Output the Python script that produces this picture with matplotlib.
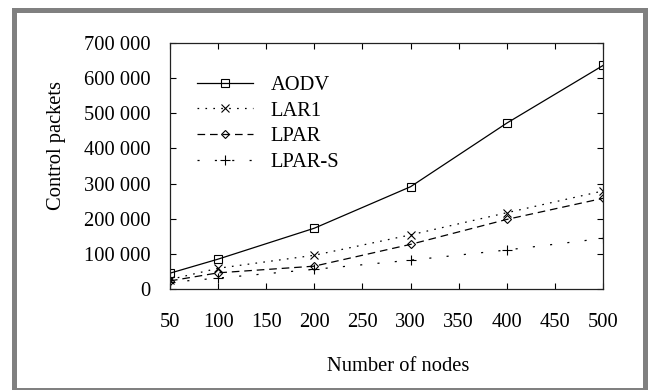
#!/usr/bin/env python3
"""
Control packets vs number of nodes - AODV / LAR1 / LPAR / LPAR-S
"""

import matplotlib
matplotlib.use('Agg')
import matplotlib.pyplot as plt
from matplotlib.patches import Rectangle
from matplotlib.ticker import FuncFormatter

# Data
nodes = [50, 100, 200, 300, 400, 500]
aodv = [45000, 85000, 173000, 291000, 472000, 636000]
lar1 = [27000, 59000, 96000, 154000, 217000, 279000]
lpar = [23000, 46000, 65000, 127000, 198000, 258000]
lpar_s = [19000, 31000, 56000, 82000, 111000, 144000]

x_ticks = [50, 100, 150, 200, 250, 300, 350, 400, 450, 500]
y_ticks = [0, 100000, 200000, 300000, 400000, 500000, 600000, 700000]

plt.rcParams['font.family'] = ['Liberation Serif', 'DejaVu Serif']
plt.rcParams['lines.scale_dashes'] = False

fig = plt.figure(figsize=(6.48, 3.9), dpi=100)
ax = fig.add_axes([170/648, 1 - 289/390, 433/648, 246/390])

lw = 0.9
ax.plot(nodes, aodv, color='black', lw=lw, marker='s', ms=5.5, mfc='none',
        mew=0.8, label='AODV')
ax.plot(nodes, lar1, color='black', lw=lw, dashes=(1.2, 4.5), marker='x', ms=5.5,
        mew=0.8, label='LAR1')
ax.plot(nodes, lpar, color='black', lw=lw, dashes=(5.5, 3.5), marker='D', ms=4.5,
        mfc='none', mew=0.8, label='LPAR')
ax.plot(nodes, lpar_s, color='black', lw=lw, dashes=(1.5, 11), marker='+', ms=6.5,
        mew=0.8, label='LPAR-S')

ax.set_xlim(50, 500)
ax.set_ylim(0, 700000)
ax.set_xticks(x_ticks)
ax.set_yticks(y_ticks)
ax.yaxis.set_major_formatter(FuncFormatter(lambda v, p: f"{int(v):,}".replace(',', ' ')))

ax.tick_params(direction='in', length=4, width=0.8, top=True, right=True,
               labelsize=14.8, pad=14, colors='black')
ax.tick_params(axis='x', pad=17.5)
for s in ax.spines.values():
    s.set_linewidth(0.9)
    s.set_color('#222222')

fig.text(398/648, 1 - 371/390, 'Number of nodes', fontsize=14.8,
         ha='center', va='baseline')
fig.text(56/648, 1 - 146/390, 'Control packets', fontsize=14.8,
         rotation=90, ha='center', va='center')

leg = ax.legend(loc='upper left', bbox_to_anchor=(0.062, 0.868), frameon=False,
                fontsize=14.8, handlelength=2.75, handletextpad=0.85,
                labelspacing=0.31, borderpad=0, borderaxespad=0, numpoints=1)

# gray frame round the figure
fig.add_artist(Rectangle((13.5/648, 0.0), (644.5 - 13.5)/648, 1 - 9.5/390,
                         transform=fig.transFigure, fill=False,
                         edgecolor='#808080', linewidth=3.6, clip_on=False))

plt.savefig('out.png', dpi=100)
